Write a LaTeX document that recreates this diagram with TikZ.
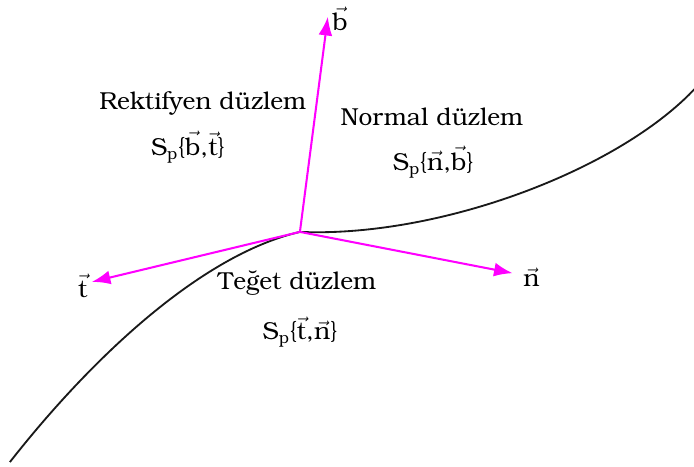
\documentclass[tikz,border=0pt]{standalone}
\usepackage[T1]{fontenc}
\usepackage{bookman}
\usetikzlibrary{arrows.meta,positioning}
\definecolor{VecMagenta}{RGB}{255,0,255}
\newcommand{\vv}[1]{\ensuremath{\vec{\textrm{#1}}}}
\newcommand{\Sp}{S\textsubscript{p}}

\begin{document}
\begin{tikzpicture}[
  vecarr/.style={-{Latex[length=3.2mm,width=2.4mm]},draw=VecMagenta,fill=VecMagenta,line width=1pt},
  curve/.style={draw=black!90,line width=0.9pt},
  plane/.style={align=center,inner sep=1pt,font=\large},
  vlabel/.style={inner sep=1pt,font=\large}
]
\useasboundingbox (-5.16,-4.04) rectangle (6.78,3.99);
\coordinate (p) at (0,0);
% egri
\draw[curve] (-4.99,-3.96) .. controls (-3.61,-2.20) and (-1.72,-0.40) .. (p)
  .. controls (2.41,-0.10) and (5.50,1.07) .. (6.81,2.48);
% vektorler
\coordinate (btip) at (0.48,3.70);
\coordinate (ttip) at (-3.58,-0.86);
\coordinate (ntip) at (3.66,-0.71);
\node[vlabel,right=1pt of btip,yshift=-1pt] (b) {\vv{b}};
\node[vlabel,left=1pt of ttip,yshift=-2pt] (t) {\vv{t}};
\node[vlabel,right=4pt of ntip,yshift=-2pt] (n) {\vv{n}};
\draw[vecarr] (p) -- (btip);
\draw[vecarr] (p) -- (ttip);
\draw[vecarr] (p) -- (ntip);
% duzlemler
\node[plane] (rekt) at (-1.67,2.22) {Rektifyen d\"uzlem};
\node[plane] (rektsp) at (-1.93,1.46) {\Sp\{\vv{b},\vv{t}\}};
\node[plane] (norm) at (2.27,1.98) {Normal d\"uzlem};
\node[plane] (normsp) at (2.29,1.20) {\Sp\{\vv{n},\vv{b}\}};
\node[plane] (teg) at (-0.05,-0.88) {Te\u{g}et d\"uzlem};
\node[plane] (tegsp) at (0,-1.72) {\Sp\{\vv{t},\vv{n}\}};
\end{tikzpicture}
\end{document}
